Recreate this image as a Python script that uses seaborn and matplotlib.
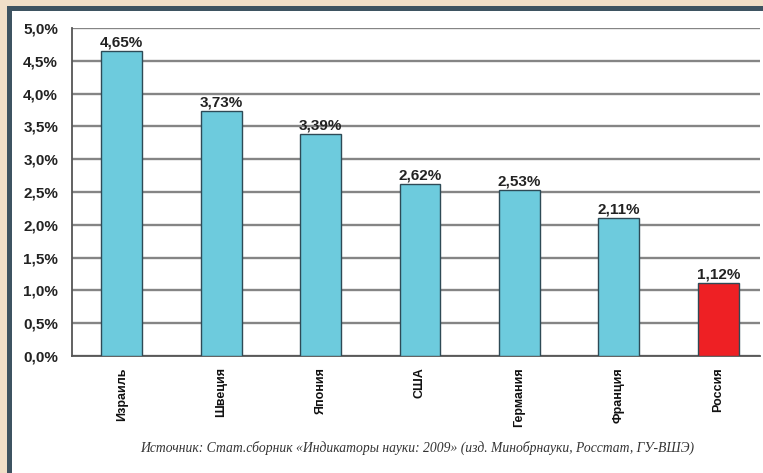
import numpy as np
import pandas as pd
import seaborn as sns
from matplotlib import pyplot as plt
from matplotlib.patches import Rectangle
from matplotlib.ticker import FuncFormatter, MultipleLocator

countries = ['Израиль', 'Швеция', 'Япония', 'США', 'Германия', 'Франция', 'Россия']
values = [4.65, 3.73, 3.39, 2.62, 2.53, 2.11, 1.12]
bar_colors = ['#6DCBDD'] * 6 + ['#EE2024']
source = 'Источник: Стат.сборник «Индикаторы науки: 2009» (изд. Минобрнауки, Росстат, ГУ-ВШЭ)'

data = pd.DataFrame({'country': countries, 'value': values})

sns.set_style('white')
plt.rcParams['font.family'] = ['Liberation Sans', 'DejaVu Sans']

W, H = 763, 473
fig = plt.figure(figsize=(W / 100, H / 100), dpi=100)
fig.patch.set_facecolor('#F1DFC8')
# dark frame and white card, kept under the axes
fig.add_artist(Rectangle((7 / W, 0), 1, 1 - 6 / H, transform=fig.transFigure,
                         facecolor='#3E5361', edgecolor='none', zorder=-2))
fig.add_artist(Rectangle((12 / W, 0), 1, 1 - 11 / H, transform=fig.transFigure,
                         facecolor='white', edgecolor='none', zorder=-1))

ax = fig.add_axes([72 / W, 1 - 356 / H, 688 / W, 328 / H])
ax.set_facecolor('none')

sns.barplot(data=data, x='country', y='value', hue='country', palette=bar_colors,
            legend=False, width=0.41, edgecolor='#2E4A56', linewidth=1.0,
            saturation=1, ax=ax, zorder=3)

ax.set_ylim(0, 5)
ax.set_xlim(-0.5, 6.42)
ax.yaxis.set_major_locator(MultipleLocator(0.5))
ax.yaxis.set_major_formatter(FuncFormatter(lambda v, p: f'{v:.1f}%'.replace('.', ',')))
ax.grid(axis='y', color='#858585', linewidth=1.7, zorder=0)
ax.set_axisbelow(True)

for c in ax.containers:
    ax.bar_label(c, labels=[f'{v:.2f}%'.replace('.', ',') for v in c.datavalues],
                 padding=1, fontsize=11, fontweight='bold', color='#222222')

ax.set_xlabel('')
ax.set_ylabel('')
ax.set_xticks(np.arange(len(countries)))
ax.set_xticklabels(countries, rotation=90, fontsize=9, fontweight='bold', color='#111111')
ax.tick_params(axis='x', length=0, pad=8)
# tick marks between categories
ax.set_xticks(np.arange(len(countries) - 1) + 0.5, minor=True)
ax.tick_params(axis='x', which='minor', length=5, width=1.2, color='#444444', direction='out')
ax.tick_params(axis='y', length=4, width=1.2, color='#444444', direction='out',
               labelsize=11, labelcolor='#222222', pad=6)
for lab in ax.get_yticklabels():
    lab.set_fontweight('bold')

for s in ['top', 'right']:
    ax.spines[s].set_visible(False)
for s in ['left', 'bottom']:
    ax.spines[s].set_color('#555555')
    ax.spines[s].set_linewidth(1.3)

fig.text(417 / W, 1 - 448 / H, source, ha='center', va='center', fontsize=9.8,
         style='italic', family=['Liberation Serif', 'DejaVu Serif'], color='#333333')

fig.savefig('out.png', dpi=100, facecolor=fig.get_facecolor())
